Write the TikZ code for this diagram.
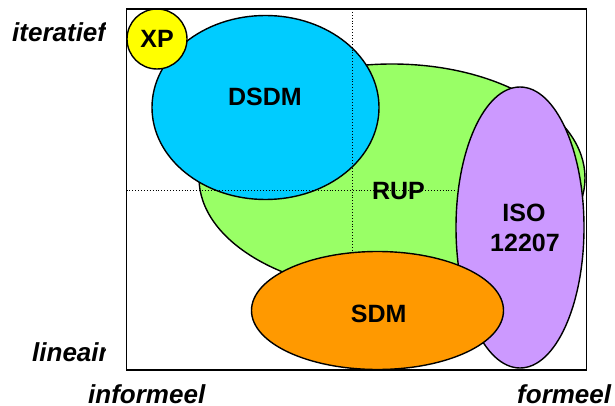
\documentclass[tikz,border=0pt]{standalone}
\usepackage{fontspec}
\setmainfont{Liberation Sans}
\definecolor{rupgreen}{HTML}{99FF66}
\definecolor{dsdmblue}{HTML}{00CCFF}
\definecolor{xpyellow}{HTML}{FFFF00}
\definecolor{isopurple}{HTML}{CC99FF}
\definecolor{sdmorange}{HTML}{FF9900}
\begin{document}
\begin{tikzpicture}[x=1pt,y=-1pt,
  blob/.style={draw=black, line width=1.4pt},
  lbl/.style={font=\fontsize{25}{30}\selectfont\bfseries, anchor=base, inner sep=0pt},
  axl/.style={font=\fontsize{26}{30}\selectfont\bfseries\itshape, anchor=base west, inner sep=0pt},
  gridline/.style={dotted, line width=0.9pt}]
\useasboundingbox (0,0) rectangle (615,406);
\fill[white] (0,0) rectangle (615,406);
% ellipses
\draw[blob, fill=rupgreen] (392,178) ellipse [x radius=193pt, y radius=114pt];
\draw[blob, fill=dsdmblue] (265.5,107.5) ellipse [x radius=113.5pt, y radius=92pt];
\draw[blob, fill=xpyellow] (157,39) circle [radius=30pt];
% dotted axes
\coordinate (vt) at (352.3,9);
\coordinate (vb) at (352.3,252);
\coordinate (hl) at (126.5,190);
\coordinate (hr) at (457,190);
\draw[gridline] (vt) -- (vb);
\draw[gridline] (hl) -- (hr);
\draw[blob, fill=isopurple] (520,227.5) ellipse [x radius=64pt, y radius=140.5pt];
\draw[blob, fill=sdmorange] (377.5,310.5) ellipse [x radius=126pt, y radius=59pt];
% frame
\draw[line width=1.4pt] (126.5,9) rectangle (586.5,370);
% labels
\node[lbl] (xp) at (157,48) {XP};
\node[lbl] (dsdm) at (265,105.7) {DSDM};
\node[lbl] (rup) at (398.4,200) {RUP};
\node[lbl] (iso) at (524,221.7) {ISO};
\node[lbl] (isonum) at (525,251.7) {12207};
\node[lbl] (sdm) at (378.7,322.7) {SDM};
% axis labels
\begin{scope}
\clip (0,0) rectangle (105,406);
\node[axl] (iter) at (12,42) {iteratief};
\node[axl] (lin) at (32,361) {lineair};
\end{scope}
\node[axl] (inf) at (88,403) {informeel};
\node[axl] (form) at (517,403) {formeel};
\end{tikzpicture}
\end{document}
